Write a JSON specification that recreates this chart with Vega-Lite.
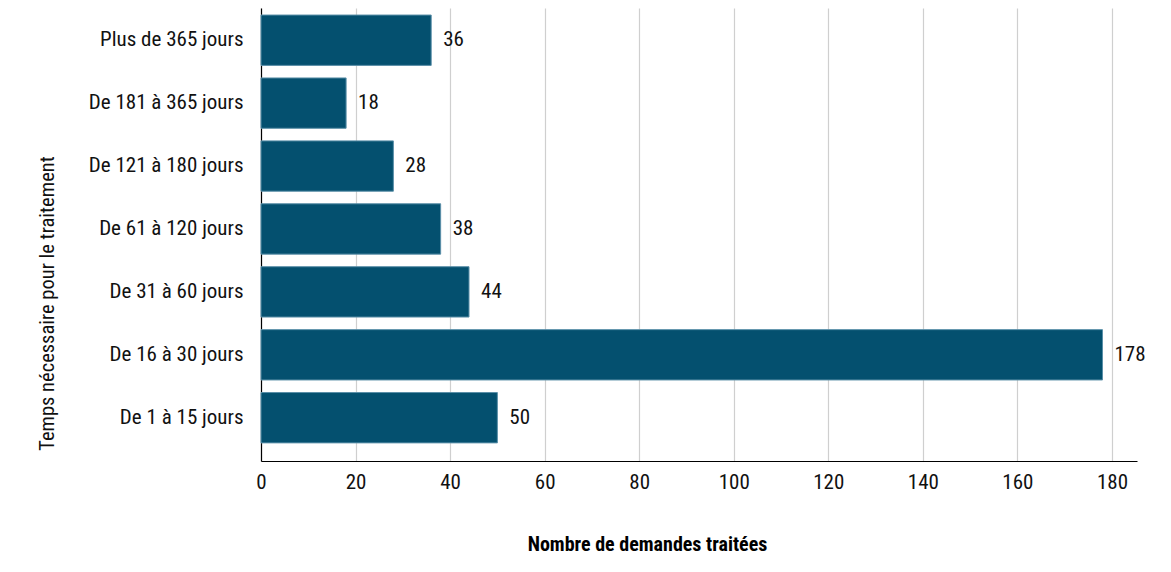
{
  "$schema": "https://vega.github.io/schema/vega-lite/v6.json",
  "width": 876,
  "height": 453,
  "autosize": "none",
  "padding": {"left": 261, "top": 8, "right": 34, "bottom": 111},
  "background": "white",
  "config": {
    "view": {"stroke": null},
    "font": "'Roboto Condensed', 'DejaVu Sans Condensed', 'Liberation Sans'"
  },
  "data": {
    "values": [
      {"cat": "Plus de 365 jours", "n": 36},
      {"cat": "De 181 à 365 jours", "n": 18},
      {"cat": "De 121 à 180 jours", "n": 28},
      {"cat": "De 61 à 120 jours", "n": 38},
      {"cat": "De 31 à 60 jours", "n": 44},
      {"cat": "De 16 à 30 jours", "n": 178},
      {"cat": "De 1 à 15 jours", "n": 50}
    ]
  },
  "encoding": {
    "y": {
      "field": "cat",
      "type": "nominal",
      "sort": null,
      "scale": {"paddingInner": 0.2, "paddingOuter": 0.2, "align": 0.28},
      "axis": {
        "title": "Temps nécessaire pour le traitement",
        "titleFont": "'Roboto Condensed', 'DejaVu Sans Condensed', 'Liberation Sans'",
        "titleFontSize": 20.5,
        "titleFontWeight": "normal",
        "titleColor": "#111",
        "titleAngle": -90,
        "titleX": -214,
        "titleY": 295,
        "titleAlign": "center",
        "titleBaseline": "middle",
        "labelFont": "'Roboto Condensed', 'DejaVu Sans Condensed', 'Liberation Sans'",
        "labelFontSize": 21,
        "labelColor": "#111",
        "labelPadding": 18,
        "ticks": false,
        "domainColor": "#000",
        "domainWidth": 1.2,
        "grid": false
      }
    },
    "x": {
      "field": "n",
      "type": "quantitative",
      "scale": {"domain": [0, 185.3], "nice": false},
      "axis": {
        "title": "Nombre de demandes traitées",
        "titleFont": "'Roboto Condensed', 'DejaVu Sans Condensed', 'Liberation Sans'",
        "titleFontSize": 20,
        "titleFontWeight": "bold",
        "titleColor": "#000",
        "titleX": 386,
        "titleY": 83,
        "titleAlign": "center",
        "titleBaseline": "middle",
        "values": [0, 20, 40, 60, 80, 100, 120, 140, 160, 180],
        "labelFont": "'Roboto Condensed', 'DejaVu Sans Condensed', 'Liberation Sans'",
        "labelFontSize": 21,
        "labelColor": "#111",
        "labelPadding": 10,
        "labelFlush": false,
        "ticks": false,
        "domainColor": "#000",
        "domainWidth": 1.2,
        "grid": true,
        "gridColor": "#cfcfcf",
        "gridWidth": 1.2
      }
    }
  },
  "layer": [
    {
      "mark": {"type": "bar", "color": "#04506f", "stroke": "#5a8fa8", "strokeWidth": 1}
    },
    {
      "mark": {"type": "text", "align": "left", "baseline": "middle", "dx": 12, "fontSize": 21, "color": "#111", "font": "'Roboto Condensed', 'DejaVu Sans Condensed', 'Liberation Sans'"},
      "encoding": {"text": {"field": "n", "type": "quantitative"}}
    }
  ]
}
